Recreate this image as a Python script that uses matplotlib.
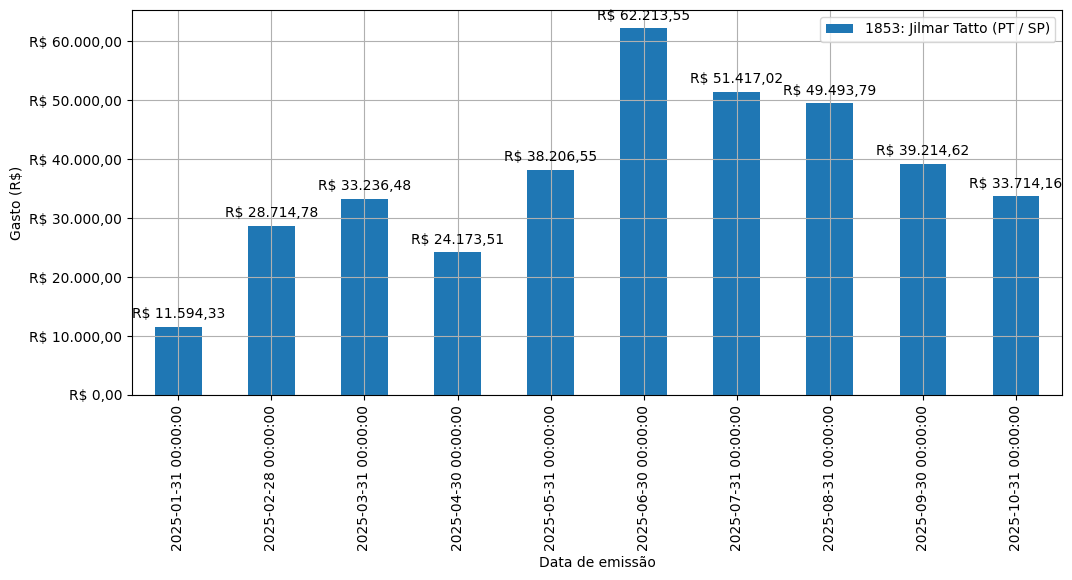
import matplotlib
matplotlib.use("Agg")
import matplotlib.pyplot as plt
from matplotlib.ticker import FuncFormatter

datas = ["2025-01-31 00:00:00", "2025-02-28 00:00:00", "2025-03-31 00:00:00",
         "2025-04-30 00:00:00", "2025-05-31 00:00:00", "2025-06-30 00:00:00",
         "2025-07-31 00:00:00", "2025-08-31 00:00:00", "2025-09-30 00:00:00",
         "2025-10-31 00:00:00"]
gastos = [11594.33, 28714.78, 33236.48, 24173.51, 38206.55,
          62213.55, 51417.02, 49493.79, 39214.62, 33714.16]
serie = "1853: Jilmar Tatto (PT / SP)"


def brl(v):
    s = f"{v:,.2f}".replace(",", "X").replace(".", ",").replace("X", ".")
    return f"R$ {s}"


fig, ax = plt.subplots(figsize=(10.72, 5.8), dpi=100)
fig.subplots_adjust(left=0.123, right=0.991, top=0.983, bottom=0.319)

x = range(len(datas))
bars = ax.bar(x, gastos, width=0.5, color="#1f77b4", label=serie)
ax.set_xlim(-0.5, len(datas) - 0.5)
ax.set_xticks(list(x))
ax.set_xticklabels(datas, rotation=90)
ax.grid(True)
ax.yaxis.set_major_formatter(FuncFormatter(lambda v, p: brl(v)))
ax.set_xlabel("Data de emissão")
ax.set_ylabel("Gasto (R$)")
ax.legend(loc="upper right")

for b, v in zip(bars, gastos):
    ax.annotate(brl(v), (b.get_x() + b.get_width() / 2, v),
                xytext=(0, 4), textcoords="offset points",
                ha="center", va="bottom")

fig.savefig("out.png", dpi=100)
